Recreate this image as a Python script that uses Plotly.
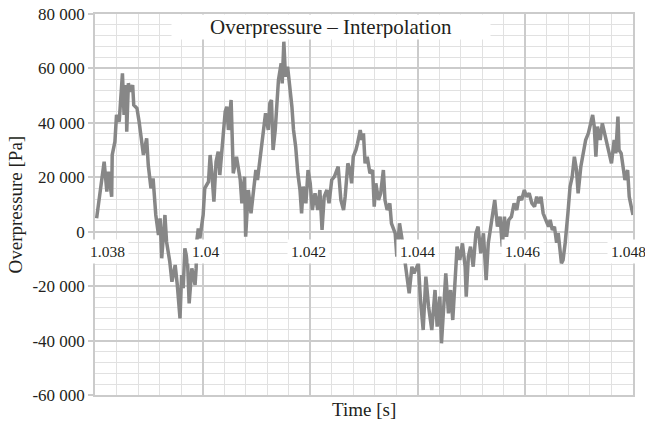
import plotly.graph_objects as go

# Time [s] and overpressure [Pa]
time_s = [
    1.03803, 1.03812, 1.03817, 1.03822, 1.03825, 1.03831, 1.03832, 1.03837, 1.03840, 1.03845,
    1.03848, 1.03851, 1.03854, 1.03858, 1.03859, 1.03862, 1.03866, 1.03870, 1.03872, 1.03878,
    1.03882, 1.03887, 1.03890, 1.03896, 1.03899, 1.03904, 1.03908, 1.03913, 1.03918, 1.03921,
    1.03924, 1.03930, 1.03933, 1.03939, 1.03943, 1.03949, 1.03953, 1.03958, 1.03961, 1.03964,
    1.03967, 1.03972, 1.03975, 1.03980, 1.03986, 1.03988, 1.03989, 1.03992, 1.03995, 1.04001,
    1.04004, 1.04011, 1.04014, 1.04017, 1.04021, 1.04025, 1.04029, 1.04032, 1.04037, 1.04042,
    1.04045, 1.04048, 1.04053, 1.04055, 1.04057, 1.04063, 1.04070, 1.04073, 1.04078, 1.04080,
    1.04085, 1.04090, 1.04094, 1.04099, 1.04102, 1.04107, 1.04111, 1.04115, 1.04117, 1.04122,
    1.04125, 1.04128, 1.04131, 1.04135, 1.04141, 1.04146, 1.04148, 1.04151, 1.04154, 1.04158,
    1.04162, 1.04166, 1.04169, 1.04173, 1.04177, 1.04181, 1.04184, 1.04187, 1.04192, 1.04196,
    1.04200, 1.04204, 1.04209, 1.04214, 1.04218, 1.04222, 1.04226, 1.04231, 1.04235, 1.04240,
    1.04245, 1.04249, 1.04252, 1.04257, 1.04262, 1.04265, 1.04270, 1.04274, 1.04277, 1.04280,
    1.04285, 1.04288, 1.04293, 1.04296, 1.04299, 1.04302, 1.04306, 1.04311, 1.04316, 1.04319,
    1.04322, 1.04327, 1.04331, 1.04336, 1.04339, 1.04343, 1.04348, 1.04351, 1.04358, 1.04361,
    1.04366, 1.04370, 1.04376, 1.04384, 1.04389, 1.04393, 1.04401, 1.04405, 1.04410, 1.04415,
    1.04420, 1.04426, 1.04432, 1.04436, 1.04441, 1.04444, 1.04449, 1.04452, 1.04457, 1.04461,
    1.04465, 1.04469, 1.04473, 1.04478, 1.04483, 1.04488, 1.04490, 1.04494, 1.04498, 1.04503,
    1.04508, 1.04512, 1.04517, 1.04522, 1.04527, 1.04531, 1.04535, 1.04539, 1.04543, 1.04548,
    1.04553, 1.04557, 1.04561, 1.04565, 1.04569, 1.04574, 1.04579, 1.04584, 1.04588, 1.04593,
    1.04598, 1.04602, 1.04607, 1.04612, 1.04617, 1.04621, 1.04625, 1.04629, 1.04633, 1.04638,
    1.04643, 1.04646, 1.04650, 1.04654, 1.04658, 1.04661, 1.04664, 1.04667, 1.04670, 1.04674,
    1.04679, 1.04683, 1.04687, 1.04691, 1.04695, 1.04698, 1.04703, 1.04708, 1.04712, 1.04717,
    1.04722, 1.04725, 1.04728, 1.04731, 1.04734, 1.04739, 1.04743, 1.04747, 1.04751, 1.04755,
    1.04760, 1.04765, 1.04768, 1.04772, 1.04774, 1.04778, 1.04782, 1.04785, 1.04790, 1.04793,
    1.04798, 1.04800,
]
overpressure_pa = [
    4930, 18380, 25730, 14700, 22050, 12870, 28190, 33080, 42900, 40430,
    49020, 58210, 42900, 53910, 36750, 54530, 51460, 53910, 46560, 45350,
    40430, 33080, 28190, 34280, 24500, 15950, 19630, 6140, -1210, 4930,
    -9770, 6140, -3670, -11020, -18370, -12250, -19580, -31820, -15900, -20790,
    -6100, -11020, -26310, -13480, -19580, -13480, -3670, 1230, -2440, 6140,
    15950, 18380, 28190, 22050, 11030, 25730, 29400, 20840, 31860, 44100,
    45940, 37380, 48400, 33700, 21460, 27560, 19000, 10440, 20210, -1830,
    15330, 6770, 14110, 22680, 19000, 27560, 34910, 39840, 43510, 37380,
    47180, 48400, 30030, 37380, 55750, 61880, 54530, 69820, 56970, 60640,
    53300, 45940, 37380, 31240, 21460, 15330, 6770, 16560, 10440, 22680,
    17790, 7980, 14110, 7980, 15330, 660, 12870, 15330, 10440, 19000,
    20210, 22680, 23890, 11650, 7980, 12870, 25140, 22680, 17790, 27560,
    30030, 32490, 37380, 33700, 36160, 25140, 27560, 21460, 22680, 9200,
    17790, 11650, 14110, 22680, 11650, 7980, 10440, 3090, -580, -9160,
    3090, -1830, -11620, -22640, -12860, -15310, -11620, -25090, -36110, -16530,
    -27540, -36110, -21420, -34890, -23870, -41000, -25090, -15310, -29980, -21420,
    -32440, -16530, -5510, -10400, -4280, -12860, -23870, -9160, -5510, -12860,
    -580, 1870, -7930, -580, -17760, -4280, 1870, 7980, 11650, 1870,
    5540, -5510, 5540, -1830, 4310, 5540, 10440, 7980, 12870, 11650,
    15330, 12870, 14110, 10440, 9200, 12870, 10440, 12870, 6770, 4310,
    1870, 4310, 660, 1870, -4040, -580, -7930, -11620, -10400, -4040,
    6770, 16560, 20210, 27560, 22680, 14110, 23890, 28810, 33700, 36160,
    41060, 42900, 38610, 27560, 38610, 33700, 39840, 36160, 32490, 30030,
    25140, 33700, 28810, 42290, 30030, 28810, 23890, 19000, 22680, 12870,
    7980, 6140,
]

y_tick_vals = [-60000, -40000, -20000, 0, 20000, 40000, 60000, 80000]
y_tick_text = ["-60 000", "-40 000", "-20 000", "0", "20 000", "40 000", "60 000", "80 000"]
x_label_vals = [1.038, 1.040, 1.042, 1.044, 1.046, 1.048]
x_label_text = ["1.038", "1.04", "1.042", "1.044", "1.046", "1.048"]
x_label_shift = [12, 3, -2, 0, -3, -5]

FONT = "Liberation Serif, Times New Roman, serif"
MAJOR = "#cbcbcb"
MINOR = "#e1e1e1"

fig = go.Figure()
fig.add_trace(go.Scatter(
    x=time_s, y=overpressure_pa, mode="lines",
    line=dict(color="#878787", width=3.5),
    showlegend=False, hoverinfo="skip",
))

fig.update_xaxes(
    range=[1.038, 1.048], tick0=1.038, dtick=0.002,
    showgrid=True, gridcolor=MAJOR, gridwidth=1.5,
    minor=dict(tick0=1.038, dtick=0.0004, showgrid=True, gridcolor=MINOR, gridwidth=1),
    showticklabels=False, ticks="", zeroline=False,
    showline=True, linecolor=MAJOR, linewidth=1.5, mirror=True,
)
fig.update_yaxes(
    range=[-60000, 80000], tickmode="array", tickvals=y_tick_vals, ticktext=y_tick_text,
    showgrid=True, gridcolor=MAJOR, gridwidth=1.5,
    minor=dict(tick0=0, dtick=4000, showgrid=True, gridcolor=MINOR, gridwidth=1),
    ticks="outside", ticklen=5, tickcolor=MAJOR, tickwidth=1.5,
    tickfont=dict(family=FONT, size=17, color="#231f20"),
    zeroline=False, showline=True, linecolor=MAJOR, linewidth=1.5, mirror=True,
)

annotations = []
for v, t, s in zip(x_label_vals, x_label_text, x_label_shift):
    annotations.append(dict(
        x=v, y=0, xref="x", yref="y", text=t, showarrow=False,
        xanchor="center", yanchor="middle", xshift=s, yshift=-20,
        bgcolor="white", borderpad=3,
        font=dict(family=FONT, size=15.5, color="#231f20"),
    ))
annotations.append(dict(
    x=0.4387, y=1, xref="paper", yref="paper", text="Overpressure – Interpolation",
    showarrow=False, xanchor="center", yanchor="top", width=316, height=22,
    bgcolor="white", font=dict(family=FONT, size=21, color="#231f20"),
))
annotations.append(dict(
    x=0.5, y=0, xref="paper", yref="paper", text="Time [s]", showarrow=False,
    xanchor="center", yanchor="top", yshift=-2,
    font=dict(family=FONT, size=19, color="#231f20"),
))
annotations.append(dict(
    x=0, y=0.5, xref="paper", yref="paper", text="Overpressure [Pa]", showarrow=False,
    xanchor="center", yanchor="middle", xshift=-80, textangle=-90,
    font=dict(family=FONT, size=19, color="#231f20"),
))

fig.update_layout(
    width=645, height=422,
    margin=dict(l=95, r=12, t=14, b=27, autoexpand=False),
    paper_bgcolor="white", plot_bgcolor="white",
    annotations=annotations,
)

fig.write_html(
    "out.html",
    config={"displayModeBar": False},
    post_script="document.body.style.margin='0';document.body.style.padding='0';",
)
